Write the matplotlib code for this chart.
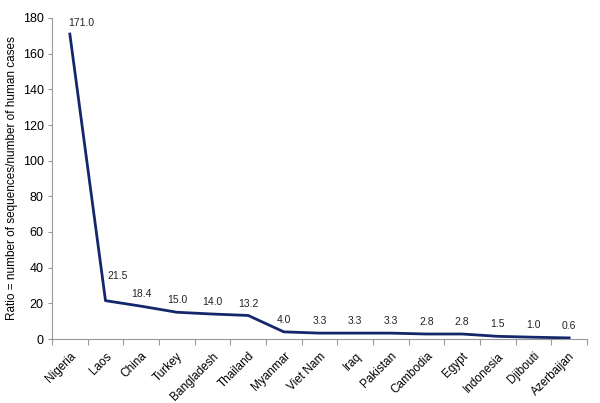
import matplotlib.pyplot as plt
import numpy as np

plt.rcParams['font.family'] = ['Liberation Sans', 'DejaVu Sans']

countries = ['Nigeria', 'Laos', 'China', 'Turkey', 'Bangladesh', 'Thailand',
             'Myanmar', 'Viet Nam', 'Iraq', 'Pakistan', 'Cambodia', 'Egypt',
             'Indonesia', 'Djibouti', 'Azerbaijan']
ratio = [171.0, 21.5, 18.4, 15.0, 14.0, 13.2, 4.0, 3.3, 3.3, 3.3, 2.8, 2.8,
         1.5, 1.0, 0.6]

fig = plt.figure(figsize=(6, 4.03), dpi=100)
ax = fig.add_axes([52/600, 1-339/403, (587-52)/600, (339-18)/403])

x = np.arange(len(countries))
ax.plot(x, ratio, color='#14276b', lw=2.0, solid_joinstyle='round')

for i, v in enumerate(ratio):
    if i == 0:
        off = (8, 4)
    elif i == 1:
        off = (9, 14)
    else:
        off = (0, 5)
    ax.annotate('%.1f' % v, (i, v), xytext=off, textcoords='offset points',
                ha='center', va='bottom', fontsize=7.5, color='#222222')

ax.set_xlim(-0.5, len(countries) - 0.5)
ax.set_ylim(0, 180)
ax.set_yticks(range(0, 181, 20))
ax.set_xticks(np.arange(len(countries) + 1) - 0.5, minor=False)
ax.set_xticklabels([])
ax.set_xticks(x, minor=True)
ax.set_xticklabels(countries, minor=True, rotation=45, ha='right',
                   rotation_mode='anchor', fontsize=8.5)
ax.tick_params(axis='x', which='minor', length=0, pad=8)
ax.tick_params(axis='x', which='major', length=4, direction='out', color='#999999')
ax.tick_params(axis='y', length=3, pad=3, direction='out', color='#999999',
               labelsize=9)

for s in ['top', 'right']:
    ax.spines[s].set_visible(False)
for s in ['left', 'bottom']:
    ax.spines[s].set_color('#999999')

ax.set_ylabel('Ratio = number of sequences/number of human cases', fontsize=8.5)
ax.yaxis.set_label_coords(-0.063, 0.5)

plt.savefig('out.png', dpi=100)
